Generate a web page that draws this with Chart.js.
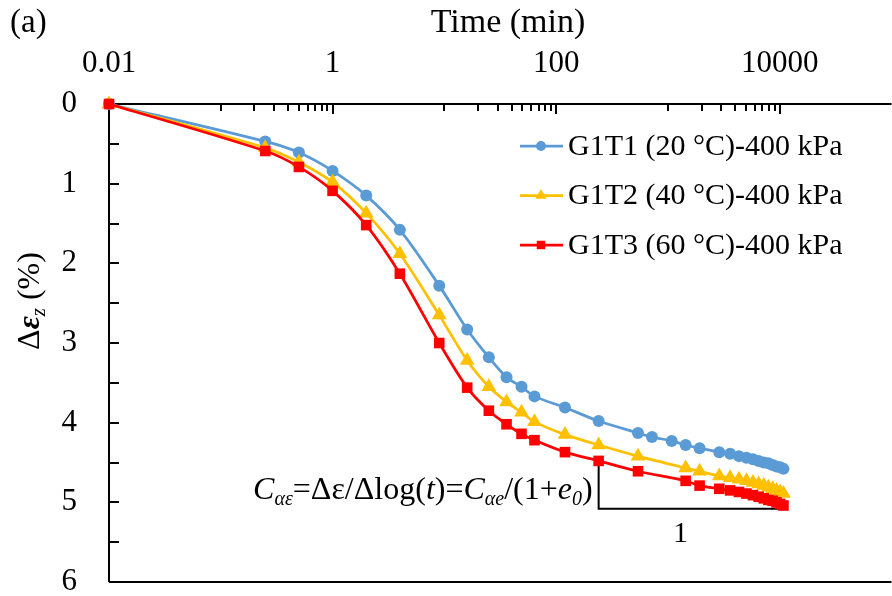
<!DOCTYPE html>
<html>
<head>
<meta charset="utf-8">
<script src="https://cdn.jsdelivr.net/npm/chart.js@4.4.1/dist/chart.umd.min.js"></script>
<style>
  html, body { margin: 0; padding: 0; background: #fff; overflow: hidden; }
  #wrap { width: 900px; height: 596px; }
</style>
</head>
<body>
<div id="wrap"><canvas id="chart" width="900" height="596"></canvas></div>
<script>
// time (min) of each reading
const timesG1T1 = [0.01, 0.25, 0.5, 1, 2, 4, 9, 16, 25, 36, 49, 64, 120, 240, 540, 720, 1080, 1440, 1920,
  2880, 3600, 4320, 5040, 5760, 6480, 7200, 7920, 8640, 9360, 10080, 10800]
const timesWarm = [0.01, 0.25, 0.5, 1, 2, 4, 9, 16, 25, 36, 49, 64, 120, 240, 540, 1440, 1920,
  2880, 3600, 4320, 5040, 5760, 6480, 7200, 7920, 8640, 9360, 10080, 10800]

// vertical strain increment (%)
const strainG1T1 = [0, 0.47, 0.61, 0.84, 1.15, 1.58, 2.28, 2.83, 3.18, 3.43, 3.55, 3.67, 3.81, 3.98, 4.13,
  4.18, 4.23, 4.28, 4.32, 4.37, 4.39, 4.42, 4.44, 4.46, 4.48, 4.50, 4.51, 4.53, 4.55, 4.56, 4.58]
const strainG1T2 = [0, 0.55, 0.73, 0.98, 1.37, 1.88, 2.65, 3.22, 3.55, 3.74, 3.87, 3.99, 4.15, 4.28, 4.42,
  4.57, 4.61, 4.67, 4.69, 4.71, 4.73, 4.75, 4.77, 4.79, 4.81, 4.83, 4.85, 4.87, 4.89]
const strainG1T3 = [0, 0.59, 0.79, 1.09, 1.52, 2.13, 3.00, 3.56, 3.85, 4.02, 4.14, 4.22, 4.37, 4.48, 4.61,
  4.73, 4.79, 4.83, 4.85, 4.87, 4.89, 4.91, 4.93, 4.95, 4.97, 4.98, 5.00, 5.02, 5.04]

const seriesNames = ["G1T1 (20 °C)-400 kPa", "G1T2 (40 °C)-400 kPa", "G1T3 (60 °C)-400 kPa"]
const xTickLabels = [0.01, 1, 100, 10000]

// slope triangle (time range and strain levels)
const slopeFrom = 240
const slopeTo = 11000
const slopeTop = 4.48
const slopeBase = 5.08

const serif = "'Liberation Serif', 'Times New Roman', serif"

function toPoints(xs, ys) {
  return xs.map((x, i) => ({ x: x, y: ys[i] }))
}

function drawRuns(ctx, runs, x, y, size, align) {
  let total = 0
  const widths = runs.map(r => {
    ctx.font = r[1] + " " + Math.round(size * r[2]) + "px " + serif
    const w = ctx.measureText(r[0]).width
    total += w
    return w
  })
  let cx = align === "right" ? x - total : align === "center" ? x - total / 2 : x
  ctx.textAlign = "left"
  runs.forEach((r, i) => {
    ctx.font = r[1] + " " + Math.round(size * r[2]) + "px " + serif
    ctx.fillText(r[0], cx, y + r[3] * size)
    cx += widths[i]
  })
}

function noPadding(scale) {
  scale.paddingTop = 0
  scale.paddingBottom = 0
  scale.paddingLeft = 0
  scale.paddingRight = 0
}

const axesPlugin = {
  id: "axesPlugin",
  beforeDatasetsDraw(chart) {
    const { ctx, chartArea: a, scales } = chart
    const x = scales.x
    const y = scales.y
    ctx.save()
    ctx.strokeStyle = "#000"
    ctx.lineWidth = 2
    ctx.beginPath()
    ctx.moveTo(a.left, a.bottom)
    ctx.lineTo(a.left, a.top)
    ctx.lineTo(a.right, a.top)
    ctx.moveTo(a.left, a.bottom)
    ctx.lineTo(a.right, a.bottom)
    ctx.stroke()

    // x ticks, pointing into the plot
    ctx.beginPath()
    ;[-1, 1, 3].forEach(d => {
      for (let k = 1; k <= 9; k++) {
        const px = Math.round(x.getPixelForValue(k * Math.pow(10, d)))
        ctx.moveTo(px, a.top)
        ctx.lineTo(px, a.top + 7)
      }
    })
    ;[1, 100, 10000].forEach(v => {
      const px = Math.round(x.getPixelForValue(v))
      ctx.moveTo(px, a.top)
      ctx.lineTo(px, a.top + 10)
    })
    // y ticks
    for (let v = 0.5; v < 6; v += 0.5) {
      const py = Math.round(y.getPixelForValue(v))
      ctx.moveTo(a.left, py)
      ctx.lineTo(a.left + 10, py)
    }
    ctx.stroke()

    // slope triangle
    const sx0 = x.getPixelForValue(slopeFrom)
    const sx1 = x.getPixelForValue(slopeTo)
    const sy0 = y.getPixelForValue(slopeTop)
    const sy1 = y.getPixelForValue(slopeBase)
    ctx.beginPath()
    ctx.moveTo(sx0, sy0)
    ctx.lineTo(sx0, sy1)
    ctx.lineTo(sx1, sy1)
    ctx.stroke()
    ctx.restore()
  },
  afterDraw(chart) {
    const { ctx, scales } = chart
    const x = scales.x
    const y = scales.y
    ctx.save()
    ctx.fillStyle = "#000"
    ctx.textBaseline = "alphabetic"

    ctx.font = "33px " + serif
    ctx.textAlign = "left"
    ctx.fillText("(a)", 10, 32)
    ctx.font = "34px " + serif
    ctx.textAlign = "center"
    ctx.fillText("Time (min)", 508, 32)

    // y title
    ctx.save()
    ctx.translate(39, 301)
    ctx.rotate(-Math.PI / 2)
    drawRuns(ctx, [
      ["Δ", "normal", 1, 0],
      ["ε", "bold italic", 1, 0],
      ["z", "italic", 0.65, 0.2],
      [" (%)", "normal", 1, 0],
    ], 0, 0, 32, "center")
    ctx.restore()

    // equation next to the slope triangle
    const sx0 = x.getPixelForValue(slopeFrom)
    const sx1 = x.getPixelForValue(slopeTo)
    const sy1 = y.getPixelForValue(slopeBase)
    drawRuns(ctx, [
      ["C", "italic", 1, 0],
      ["αε", "italic", 0.62, 0.2],
      ["=Δε/Δlog(", "normal", 1, 0],
      ["t", "italic", 1, 0],
      [")=", "normal", 1, 0],
      ["C", "italic", 1, 0],
      ["αe", "italic", 0.62, 0.2],
      ["/(1+", "normal", 1, 0],
      ["e", "italic", 1, 0],
      ["0", "italic", 0.62, 0.2],
      [")", "normal", 1, 0],
    ], sx0 - 6, 499, 31.5, "right")
    ctx.font = "30px " + serif
    ctx.textAlign = "center"
    ctx.textBaseline = "middle"
    ctx.fillText("1", (sx0 + sx1) / 2 - 11, sy1 + 25)

    // legend
    const rows = [146, 195.5, 245]
    const legendRadius = [5, 6.5, 6]
    chart.data.datasets.forEach((ds, i) => {
      const ry = rows[i]
      ctx.strokeStyle = ds.borderColor
      ctx.lineWidth = ds.borderWidth
      ctx.beginPath()
      ctx.moveTo(520, ry)
      ctx.lineTo(563, ry)
      ctx.stroke()
      ctx.fillStyle = ds.pointBackgroundColor
      Chart.helpers.drawPoint(ctx, {
        pointStyle: ds.pointStyle, radius: legendRadius[i], rotation: 0, borderWidth: 0,
      }, 541, ry)
      ctx.fillStyle = "#000"
      ctx.font = "30px " + serif
      ctx.textAlign = "left"
      ctx.textBaseline = "middle"
      ctx.fillText(ds.label, 568, ry + 1)
    })
    ctx.restore()
  },
}

const colors = ["#5B9BD5", "#FFC000", "#FF0000"]

new Chart(document.getElementById("chart").getContext("2d"), {
  type: "line",
  data: {
    datasets: [
      {
        label: seriesNames[0],
        data: toPoints(timesG1T1, strainG1T1),
        borderColor: colors[0],
        pointBackgroundColor: colors[0],
        pointStyle: "circle",
        pointRadius: 6,
        order: 3,
      },
      {
        label: seriesNames[1],
        data: toPoints(timesWarm, strainG1T2),
        borderColor: colors[1],
        pointBackgroundColor: colors[1],
        pointStyle: "triangle",
        pointRadius: 8.5,
        order: 2,
      },
      {
        label: seriesNames[2],
        data: toPoints(timesWarm, strainG1T3),
        borderColor: colors[2],
        pointBackgroundColor: colors[2],
        pointStyle: "rect",
        pointRadius: 7.5,
        order: 1,
      },
    ].map(ds => Object.assign(ds, {
      borderWidth: 2.75,
      pointBorderWidth: 0,
      pointHoverRadius: ds.pointRadius,
      tension: 0.3,
      fill: false,
      clip: false,
    })),
  },
  options: {
    responsive: false,
    devicePixelRatio: 1,
    animation: false,
    layout: {
      padding: { left: 0, top: 0, right: 1, bottom: 14 },
    },
    plugins: {
      legend: { display: false },
      tooltip: { enabled: false },
    },
    scales: {
      x: {
        type: "logarithmic",
        position: "top",
        min: 0.01,
        max: 100000,
        grid: { display: false, drawTicks: false },
        border: { display: false },
        afterBuildTicks(scale) {
          scale.ticks = xTickLabels.map(v => ({ value: v }))
        },
        afterFit(scale) {
          scale.height = 104
          noPadding(scale)
        },
        ticks: {
          autoSkip: false,
          maxRotation: 0,
          padding: 22,
          color: "#000",
          font: { family: serif, size: 31 },
          callback: v => String(v),
        },
      },
      y: {
        reverse: true,
        min: 0,
        max: 6,
        grid: { display: false, drawTicks: false },
        border: { display: false },
        afterFit(scale) {
          scale.width = 109
          noPadding(scale)
        },
        ticks: {
          stepSize: 1,
          padding: 32,
          color: "#000",
          font: { family: serif, size: 31 },
        },
      },
    },
  },
  plugins: [axesPlugin],
})
</script>
</body>
</html>
